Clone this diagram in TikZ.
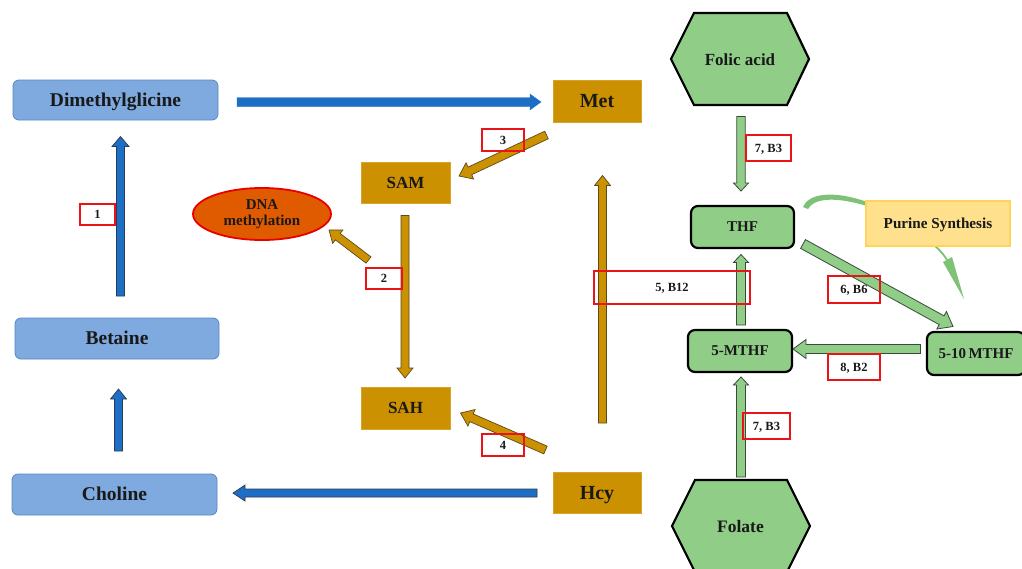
\documentclass[tikz,border=0pt]{standalone}
\usepackage{fontspec}
\setmainfont{Liberation Serif}
\usetikzlibrary{calc,shapes.geometric}
\definecolor{bluebox}{HTML}{7EAADF}
\definecolor{blueedge}{HTML}{5B86C5}
\definecolor{bluearr}{HTML}{1C6FC4}
\definecolor{darkedge}{HTML}{2F3A4F}
\definecolor{gold}{HTML}{CC9100}
\definecolor{goldedge}{HTML}{5A4A20}
\definecolor{goldbox}{HTML}{D9A22A}
\definecolor{leaf}{HTML}{90CE88}
\definecolor{leafedge}{HTML}{3A4A3A}
\definecolor{swoosh}{HTML}{7DC275}
\definecolor{labred}{HTML}{E8141A}
\definecolor{dnafill}{HTML}{E05A00}
\definecolor{dnaedge}{HTML}{E60000}
\definecolor{purfill}{HTML}{FFE08C}
\definecolor{puredge}{HTML}{FFD45A}
\newcommand\fs[1]{\fontsize{#1}{#1}\selectfont\bfseries}
% block arrow: #1 from, #2 to, #3 half shaft, #4 half head, #5 head length, #6 style
\newcommand\barrow[6]{%
  \coordinate (bH) at ($(#2)!#5!(#1)$);
  \draw[#6] ($(#1)!#3!90:(#2)$) -- ($(bH)!#3!90:(#2)$) -- ($(bH)!#4!90:(#2)$)
    -- (#2) -- ($(bH)!#4!-90:(#2)$) -- ($(bH)!#3!-90:(#2)$) -- ($(#1)!#3!-90:(#2)$) -- cycle;}
\tikzset{
  fsz/.style={font=\fs{#1}, text height={0.66*#1 pt}, text depth=0pt},
  bluenode/.style={draw=blueedge, fill=bluebox, rounded corners=6pt, line width=0.8pt,
    inner sep=0pt, fsz=19.5, text=black!90},
  goldnode/.style={draw=goldbox, fill=gold, line width=0.6pt, inner sep=0pt, text=black!90},
  greennode/.style={draw=black, fill=leaf, rounded corners=7pt, line width=2.2pt,
    inner sep=0pt, fsz=15, text=black!90},
  hexshape/.style={draw=black, fill=leaf, line width=2.2pt, line join=miter},
  lab/.style={draw=labred, line width=1.3pt, inner sep=0pt, fsz=12.5, text=black!90},
  bluearrow/.style={fill=bluearr, draw=darkedge, line width=0.7pt},
  bluearrowplain/.style={fill=bluearr, draw=bluearr, line width=0.3pt},
  goldarrow/.style={fill=gold, draw=goldedge, line width=0.7pt, line join=miter},
  greenarrow/.style={fill=leaf, draw=leafedge, line width=0.8pt, line join=miter},
}
\begin{document}
\begin{tikzpicture}[x=1pt,y=-1pt]
\useasboundingbox (0,0) rectangle (1022,568);
\fill[white] (0,0) rectangle (1022,568);

% ---------- nodes ----------
\node[bluenode, minimum width=205pt, minimum height=40pt] (dmg) at (115.5,100) {Dimethylglicine};
\node[bluenode, minimum width=204pt, minimum height=41pt] (bet) at (117,338.5) {Betaine};
\node[bluenode, minimum width=205pt, minimum height=41pt] (cho) at (114.5,494.5) {Choline};

\node[goldnode, minimum width=88pt, minimum height=42pt, fsz=20] (met) at (597,101) {Met};
\node[goldnode, minimum width=89pt, minimum height=41pt, fsz=17] (sam) at (405.5,182.5) {SAM};
\node[goldnode, minimum width=89pt, minimum height=42pt, fsz=17] (sah) at (405.5,408) {SAH};
\node[goldnode, minimum width=88pt, minimum height=41pt, fsz=20] (hcy) at (597,492.5) {Hcy};

\node[ellipse, draw=dnaedge, fill=dnafill, line width=1.8pt, minimum width=138pt, minimum height=52pt,
  inner sep=0pt, align=center, font=\fontsize{15}{16}\selectfont\bfseries, text=black!90] (dna) at (262,214) {DNA\\methylation};

\draw[hexshape] (694,13) -- (787,13) -- (809,59) -- (787,105) -- (694,105) -- (671,59) -- cycle;
\node[fsz=17, text=black!90, inner sep=0pt] (folic) at (740,60) {Folic acid};
\draw[hexshape] (695,480) -- (787,480) -- (810,526) -- (787,572) -- (695,572) -- (672,526) -- cycle;
\node[fsz=17.5, text=black!90, inner sep=0pt] (folate) at (740.5,527) {Folate};

\node[greennode, minimum width=103pt, minimum height=42pt] (thf) at (742.5,227) {THF};
\node[greennode, minimum width=104pt, minimum height=42pt] (mthf) at (740,351) {5-MTHF};
\node[greennode, minimum width=98pt, minimum height=43pt] (mthften) at (976,353.5) {5-10\,MTHF};

% ---------- purine swoosh ----------
\fill[swoosh] (803,207) .. controls (808,194) and (832,189) .. (870,203) -- (870,207)
  .. controls (836,196) and (814,198) .. (808,209) -- cycle;
\draw[swoosh, line width=1.8pt] (928,240) .. controls (938,248) and (944,254) .. (948,262);
\fill[swoosh] (943,262) -- (952,257) -- (964,299) -- cycle;
\node[draw=puredge, fill=purfill, line width=1.2pt, minimum width=144pt, minimum height=45pt,
  inner sep=0pt, fsz=15.2, text=black!90] (purine) at (938,223.5) {Purine Synthesis};

% ---------- arrow end points ----------
\coordinate (b1s) at (120.5,296); \coordinate (b1e) at (120.5,136.5);
\coordinate (b2s) at (118.5,451); \coordinate (b2e) at (118.5,389);
\coordinate (b3s) at (237,102); \coordinate (b3e) at (541,102);
\coordinate (b4s) at (537,493); \coordinate (b4e) at (233,493);
\coordinate (g3s) at (546.5,135); \coordinate (g3e) at (459,176);
\coordinate (g2s) at (405,215.5); \coordinate (g2e) at (405,378);
\coordinate (gds) at (368.5,260); \coordinate (gde) at (329,230);
\coordinate (g4s) at (545.5,450); \coordinate (g4e) at (460.5,413);
\coordinate (g5s) at (602.5,423); \coordinate (g5e) at (602.5,175.5);
\coordinate (f1s) at (741,116.5); \coordinate (f1e) at (741,191);
\coordinate (f2s) at (741,325); \coordinate (f2e) at (741,254.5);
\coordinate (f3s) at (803,244); \coordinate (f3e) at (953,326.5);
\coordinate (f4s) at (920.5,349); \coordinate (f4e) at (793,349);
\coordinate (f5s) at (741,477); \coordinate (f5e) at (741,377);

% ---------- arrows ----------
\barrow{b1s}{b1e}{4pt}{8.5pt}{10pt}{bluearrow}
\barrow{b2s}{b2e}{4pt}{8pt}{10pt}{bluearrow}
\barrow{b3s}{b3e}{4.5pt}{8pt}{11pt}{bluearrowplain}
\barrow{b4s}{b4e}{4pt}{8pt}{12pt}{bluearrow}

\barrow{g3s}{g3e}{4.2pt}{9pt}{12pt}{goldarrow}
\barrow{g2s}{g2e}{4pt}{8pt}{10pt}{goldarrow}
\barrow{gds}{gde}{4pt}{8.5pt}{11pt}{goldarrow}
\barrow{g4s}{g4e}{4.2pt}{9pt}{12pt}{goldarrow}
\barrow{g5s}{g5e}{4pt}{8pt}{10pt}{goldarrow}

\barrow{f1s}{f1e}{4.2pt}{7.5pt}{8pt}{greenarrow}
\barrow{f2s}{f2e}{4.5pt}{7.5pt}{8pt}{greenarrow}
\barrow{f3s}{f3e}{5pt}{10pt}{13pt}{greenarrow}
\barrow{f4s}{f4e}{4.5pt}{9.5pt}{13pt}{greenarrow}
\barrow{f5s}{f5e}{4.5pt}{7.5pt}{8pt}{greenarrow}

% ---------- labels ----------
\node[lab, minimum width=35pt, minimum height=21pt] (l1) at (97.5,214.5) {1};
\node[lab, minimum width=36pt, minimum height=21pt] (l2) at (384,278.5) {2};
\node[lab, minimum width=42pt, minimum height=22pt] (l3) at (503,140) {3};
\node[lab, minimum width=42pt, minimum height=22pt] (l4) at (503,445) {4};
\node[lab, minimum width=156pt, minimum height=33pt] (l5) at (672,287.5) {5, B12};
\node[lab, minimum width=45pt, minimum height=26pt] (l7a) at (768.5,148) {7, B3};
\node[lab, minimum width=52pt, minimum height=27pt] (l6) at (854,289.5) {6, B6};
\node[lab, minimum width=52pt, minimum height=26pt] (l8) at (854,367) {8, B2};
\node[lab, minimum width=47pt, minimum height=26pt] (l7b) at (766.5,426) {7, B3};
\end{tikzpicture}
\end{document}
